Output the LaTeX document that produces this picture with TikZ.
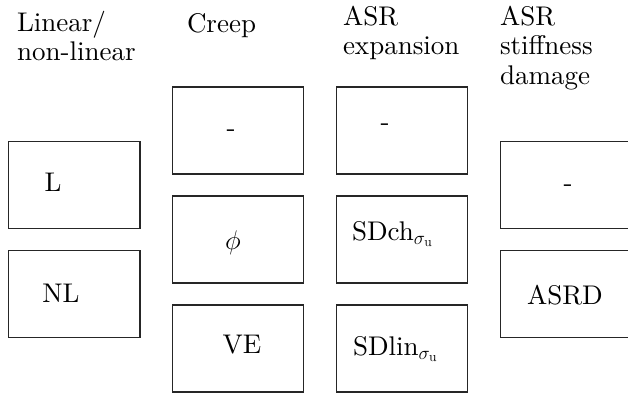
\RequirePackage{fix-cm}
\documentclass[tikz,border=0pt]{standalone}
\usepackage{fontspec}
% the 10pt design of Latin Modern, scaled up, for all text sizes
\setmainfont{lmroman10-regular.otf}
\begin{document}
\begin{tikzpicture}[x=1pt,y=-1pt,
  every node/.style={inner sep=0pt, outer sep=0pt},
  box/.style={draw=black!85, line width=1.2pt},
  lbl/.style={anchor=base, font=\fontsize{27}{29.5}\selectfont},
  head/.style={anchor=base west, font=\fontsize{27}{29.5}\selectfont},
  ]
\useasboundingbox (0,0) rectangle (628,394);

% column headings
\node[head] (h1) at (17,31) {\begin{tabular}[t]{@{}l@{}}Linear/\\non-linear\end{tabular}};
\node[head] (h2) at (187,32) {Creep};
\node[head] (h3) at (343,25) {\begin{tabular}[t]{@{}l@{}}ASR\\expansion\end{tabular}};
\node[head] (h4) at (500,25) {\begin{tabular}[t]{@{}l@{}}ASR\\stiffness\\damage\end{tabular}};

% column 1: linear / non-linear
\draw[box] (8.5,141.5) rectangle (140,228.5) node[pos=.5] (bL) {};
\draw[box] (8.5,250.5) rectangle (140,337.5) node[pos=.5] (bNL) {};
\node[lbl] (tL) at (53,191) {L};
\node[lbl] (tNL) at (61,302) {NL};

% column 2: creep
\draw[box] (172.5,87) rectangle (303.5,174) node[pos=.5] (bC1) {};
\draw[box] (172.5,196) rectangle (303.5,283) node[pos=.5] (bC2) {};
\draw[box] (172.5,305) rectangle (303.5,392) node[pos=.5] (bC3) {};
\node[lbl] (tC1) at (231,136.5) {-};
\node[lbl] (tC2) at (233,249) {$\phi$};
\node[lbl] (tC3) at (242,353) {VE};

% column 3: ASR expansion
\draw[box] (336.5,87) rectangle (467.5,174) node[pos=.5] (bE1) {};
\draw[box] (336.5,196) rectangle (467.5,283) node[pos=.5] (bE2) {};
\draw[box] (336.5,305) rectangle (467.5,392) node[pos=.5] (bE3) {};
\node[lbl] (tE1) at (385,130.5) {-};
\node[lbl, anchor=base west] (tE2) at (352,240) {SDch$_{\sigma_{\mathrm{u}}}$};
\node[lbl, anchor=base west] (tE3) at (353,355) {SDlin$_{\sigma_{\mathrm{u}}}$};

% column 4: ASR stiffness damage
\draw[box] (500.5,141.5) rectangle (631.5,228.5) node[pos=.5] (bD1) {};
\draw[box] (500.5,250.5) rectangle (631.5,337.5) node[pos=.5] (bD2) {};
\node[lbl] (tD1) at (568,191.5) {-};
\node[lbl, anchor=base west] (tD2) at (527,304) {ASRD};
\end{tikzpicture}
\end{document}
